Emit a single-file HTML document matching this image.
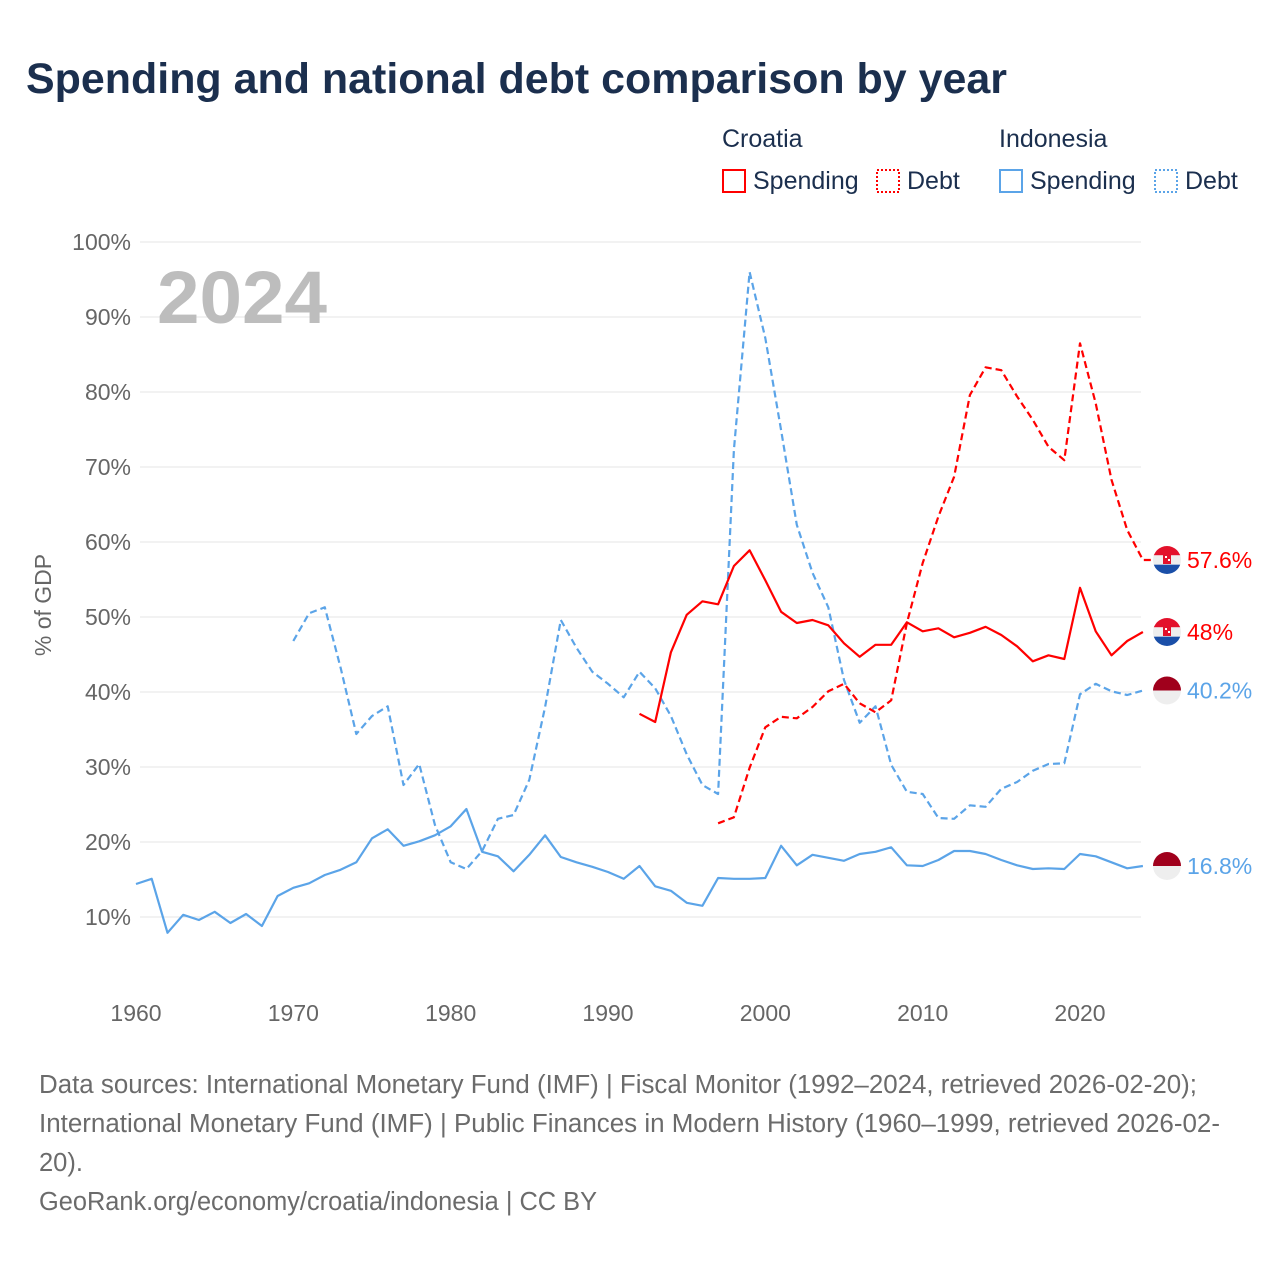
<!DOCTYPE html>
<html><head><meta charset="utf-8">
<style>
html,body{margin:0;padding:0;background:#fff;}
body{width:1280px;height:1280px;overflow:hidden;font-family:"Liberation Sans",sans-serif;}
</style></head>
<body>
<svg id="chart" width="1280" height="1280" viewBox="0 0 1280 1280" xmlns="http://www.w3.org/2000/svg" font-family="Liberation Sans, sans-serif">
<text x="26" y="93" font-size="43" font-weight="bold" fill="#1b2f4e" textLength="981" lengthAdjust="spacingAndGlyphs">Spending and national debt comparison by year</text>
<g font-size="25" fill="#1b2f4e">
<text x="722" y="147">Croatia</text>
<text x="999" y="147">Indonesia</text>
<g><rect x="723" y="170" width="22" height="22" fill="none" stroke="#ff0000" stroke-width="2"/><text x="753" y="189">Spending</text></g>
<g><rect x="877" y="170" width="22" height="22" fill="none" stroke="#ff0000" stroke-width="2" stroke-dasharray="2,2"/><text x="907" y="189">Debt</text></g>
<g><rect x="1000" y="170" width="22" height="22" fill="none" stroke="#5ba4e8" stroke-width="2"/><text x="1030" y="189">Spending</text></g>
<g><rect x="1155" y="170" width="22" height="22" fill="none" stroke="#5ba4e8" stroke-width="2" stroke-dasharray="2,2"/><text x="1185" y="189">Debt</text></g>
</g>
<g id="grid"></g>
<g id="yticks" font-size="23" fill="#666" text-anchor="end"></g>
<g id="xticks" font-size="23" fill="#666" text-anchor="middle"></g>
<text transform="translate(51,605) rotate(-90)" font-size="23" fill="#666" text-anchor="middle">% of GDP</text>
<text x="157" y="323" font-size="74" font-weight="bold" fill="#bdbdbd" textLength="170" lengthAdjust="spacingAndGlyphs">2024</text>
<g id="series"></g>
<g id="endlabels" font-size="23"></g>
<g font-size="25.5" fill="#6b6b6b">
<text x="39" y="1093" textLength="1158" lengthAdjust="spacingAndGlyphs">Data sources: International Monetary Fund (IMF) | Fiscal Monitor (1992–2024, retrieved 2026-02-20);</text>
<text x="39" y="1132" textLength="1181" lengthAdjust="spacingAndGlyphs">International Monetary Fund (IMF) | Public Finances in Modern History (1960–1999, retrieved 2026-02-</text>
<text x="39" y="1171">20).</text>
<text x="39" y="1210" textLength="558" lengthAdjust="spacingAndGlyphs">GeoRank.org/economy/croatia/indonesia | CC BY</text>
</g>
</svg>
<script>
const yTicks = [10,20,30,40,50,60,70,80,90,100];
const xTicks = [1960,1970,1980,1990,2000,2010,2020];
const idnSpendStart = 1960;
const idnSpending = [14.4,15.1,7.9,10.3,9.6,10.7,9.2,10.4,8.8,12.8,13.9,14.5,15.6,16.3,17.3,20.5,21.7,19.5,20.1,20.9,22.1,24.4,18.7,18.1,16.1,18.3,20.9,18.0,17.3,16.7,16.0,15.1,16.8,14.1,13.5,11.9,11.5,15.2,15.1,15.1,15.2,19.5,16.9,18.3,17.9,17.5,18.4,18.7,19.3,16.9,16.8,17.6,18.8,18.8,18.4,17.6,16.9,16.4,16.5,16.4,18.4,18.1,17.3,16.5,16.8];
const idnDebtStart = 1970;
const idnDebt = [46.8,50.5,51.3,43.3,34.4,36.8,38.1,27.6,30.4,22.3,17.3,16.4,18.8,23.1,23.6,28.3,38.0,49.6,45.9,42.7,41.1,39.3,42.7,40.5,36.8,31.7,27.6,26.4,72.3,96.0,87.2,74.9,62.3,55.9,51.3,41.6,35.9,38.1,30.3,26.7,26.4,23.2,23.1,24.9,24.7,27.1,28.0,29.5,30.4,30.5,39.7,41.1,40.1,39.6,40.2];
const hrvSpendStart = 1992;
const hrvSpending = [37.1,36.0,45.3,50.3,52.1,51.7,56.8,58.9,54.9,50.7,49.2,49.6,48.9,46.5,44.7,46.3,46.3,49.3,48.1,48.5,47.3,47.9,48.7,47.6,46.1,44.1,44.9,44.4,53.9,48.1,44.9,46.8,48.0];
const hrvDebtStart = 1997;
const hrvDebt = [22.5,23.3,29.9,35.3,36.7,36.5,38.0,40.1,41.1,38.5,37.3,38.9,49.2,57.2,63.4,68.7,79.6,83.3,82.9,79.4,76.3,72.7,70.9,86.5,78.5,68.3,61.6,57.6,57.6];

const NS='http://www.w3.org/2000/svg';
const X0=136, PXY=944/60;
function xs(yr){return X0+(yr-1960)*PXY;}
function ys(v){return 242+(100-v)*7.5;}
function mk(tag,attrs,parent){const e=document.createElementNS(NS,tag);for(const k in attrs)e.setAttribute(k,attrs[k]);parent.appendChild(e);return e;}

const grid=document.getElementById('grid'), yt=document.getElementById('yticks'), xt=document.getElementById('xticks');
yTicks.forEach(v=>{
  const l=mk('line',{x1:140,x2:1141,y1:ys(v),y2:ys(v),stroke:'#e6e6e6','stroke-width':1},grid);
  
  
  const t=mk('text',{x:131,y:ys(v)+8},yt);t.textContent=v+'%';
  
  
});
xTicks.forEach(yr=>{
  const t=mk('text',{x:xs(yr),y:1021},xt);t.textContent=yr;
  
  
});
const ser=document.getElementById('series');
function line(vals,start,color,dash,name){
  const pts=vals.map((v,i)=>xs(start+i).toFixed(1)+','+ys(v).toFixed(1)).join(' ');
  const p=mk('polyline',{points:pts,fill:'none',stroke:color,'stroke-width':2.2,'stroke-linejoin':'round'},ser);
  if(dash)p.setAttribute('stroke-dasharray',dash);
  
  
}
line(idnSpending,idnSpendStart,'#5ba4e8',null,'line-indonesia-spending');
line(idnDebt,idnDebtStart,'#5ba4e8','7,4','line-indonesia-debt');
line(hrvSpending,hrvSpendStart,'#ff0000',null,'line-croatia-spending');
line(hrvDebt,hrvDebtStart,'#ff0000','7,4','line-croatia-debt');

const el=document.getElementById('endlabels');
function flag(cy,country){
  const cx=1167,r=14;
  const g=mk('g',{},el);
  
  
  const id='clip'+Math.round(cy);
  const cp=mk('clipPath',{id:id},g);mk('circle',{cx:cx,cy:cy,r:r},cp);
  const gg=mk('g',{'clip-path':'url(#'+id+')'},g);
  if(country==='croatia'){
    mk('rect',{x:cx-r,y:cy-r,width:2*r,height:2*r/3,fill:'#e3112b'},gg);
    mk('rect',{x:cx-r,y:cy-r/3,width:2*r,height:2*r/3,fill:'#eeeeee'},gg);
    mk('rect',{x:cx-r,y:cy+r/3,width:2*r,height:2*r/3,fill:'#1a4fa8'},gg);
    mk('rect',{x:cx-4,y:cy-6,width:8,height:10,fill:'#e3112b'},gg);
    mk('rect',{x:cx-2,y:cy-4,width:2,height:2,fill:'#fff'},gg);
    mk('rect',{x:cx+1,y:cy-1,width:2,height:2,fill:'#fff'},gg);
  } else {
    mk('rect',{x:cx-r,y:cy-r,width:2*r,height:r,fill:'#a0001c'},gg);
    mk('rect',{x:cx-r,y:cy,width:2*r,height:r,fill:'#eeeeee'},gg);
  }
}
function endLabel(vals,color,country,name){
  const v=vals[vals.length-1];const cy=ys(v);
  flag(cy,country);
  const t=mk('text',{x:1187,y:cy+8,fill:color},el);t.textContent=v+'%';
  
  
}
endLabel(hrvDebt,'#ff0000','croatia','end-label-croatia-debt');
endLabel(hrvSpending,'#ff0000','croatia','end-label-croatia-spending');
endLabel(idnDebt,'#5ba4e8','indonesia','end-label-indonesia-debt');
endLabel(idnSpending,'#5ba4e8','indonesia','end-label-indonesia-spending');
</script>
</body></html>
